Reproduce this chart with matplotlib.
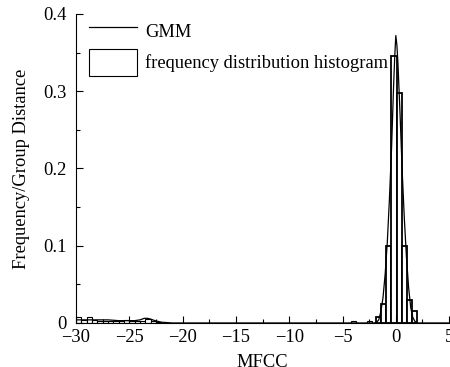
import matplotlib
matplotlib.use("Agg")
import matplotlib.pyplot as plt
from matplotlib.lines import Line2D
from matplotlib.patches import Rectangle
from matplotlib.ticker import MultipleLocator, FuncFormatter

plt.rcParams["font.family"] = ["Liberation Serif", "DejaVu Serif"]
FS = 13.3

# histogram bins near the peak (left edges, widths, heights)
peak_left = [-1.85, -1.37, -0.89, -0.41, 0.07, 0.55, 1.03, 1.51]
peak_width = [0.48, 0.48, 0.48, 0.48, 0.48, 0.48, 0.48, 0.48]
peak_height = [0.008, 0.025, 0.100, 0.345, 0.298, 0.100, 0.030, 0.015]

# small bins far out in the left tail
tail_left = [-30.0, -29.5, -29.0, -28.5, -28.0, -27.5, -27.0, -26.5, -26.0,
             -25.5, -25.0, -24.5, -24.0, -23.5, -23.0, -22.5, -4.2, -2.7]
tail_width = [0.5] * len(tail_left)
tail_height = [0.008, 0.004, 0.008, 0.004, 0.003, 0.003, 0.003, 0.003, 0.002,
               0.004, 0.002, 0.002, 0.003, 0.005, 0.003, 0.001, 0.002, 0.002]

# GMM curve
gmm_x = [-30.0, -29.0, -28.0, -27.0, -26.0, -25.0, -24.5, -24.0, -23.6, -23.3,
         -23.0, -22.6, -22.0, -21.0, -18.0, -10.0, -5.0, -2.5, -2.0, -1.8,
         -1.6, -1.4, -1.2, -1.0, -0.8, -0.6, -0.4, -0.2, -0.1, 0.0,
         0.1, 0.2, 0.4, 0.6, 0.8, 1.0, 1.2, 1.4, 1.6, 1.8, 2.0, 2.5, 5.0]
gmm_y = [0.004, 0.004, 0.004, 0.004, 0.003, 0.003, 0.003, 0.004, 0.006, 0.006,
         0.005, 0.003, 0.001, 0.0, 0.0, 0.0, 0.0, 0.0, 0.0, 0.001,
         0.004, 0.015, 0.033, 0.063, 0.104, 0.160, 0.226, 0.310, 0.345, 0.372,
         0.360, 0.336, 0.270, 0.196, 0.135, 0.085, 0.046, 0.020, 0.007, 0.002, 0.0, 0.0, 0.0]

fig = plt.figure(figsize=(4.5, 3.67), dpi=100)
ax = fig.add_axes([0.169, 0.12, 0.829, 0.842])

ax.bar(tail_left, tail_height, width=tail_width, align="edge",
       facecolor="white", edgecolor="black", linewidth=0.8)
ax.bar(peak_left, peak_height, width=peak_width, align="edge",
       facecolor="white", edgecolor="black", linewidth=1.3)
ax.plot(gmm_x, gmm_y, color="black", linewidth=0.9)

ax.set_xlim(-30, 5)
ax.set_ylim(0, 0.4)
ax.xaxis.set_major_locator(MultipleLocator(5))
ax.xaxis.set_minor_locator(MultipleLocator(2.5))
ax.yaxis.set_major_locator(MultipleLocator(0.1))
ax.yaxis.set_minor_locator(MultipleLocator(0.05))
ax.yaxis.set_major_formatter(FuncFormatter(lambda v, p: "%g" % round(v, 2)))
ax.xaxis.set_major_formatter(FuncFormatter(lambda v, p: ("%g" % v).replace("-", "\u2212")))
ax.tick_params(which="both", direction="in", labelsize=FS, width=0.8)
ax.tick_params(which="major", length=5)
ax.tick_params(which="minor", length=3)
ax.tick_params(axis="x", pad=4)
ax.tick_params(axis="y", pad=7)
ax.spines["top"].set_visible(False)
ax.spines["right"].set_visible(False)
for s in ("left", "bottom"):
    ax.spines[s].set_linewidth(0.8)

ax.set_xlabel("MFCC", fontsize=FS, labelpad=6)
ax.set_ylabel("Frequency/Group Distance", fontsize=FS, labelpad=9)

handles = [Line2D([], [], color="black", linewidth=0.9),
           Rectangle((0, 0), 1, 1, facecolor="white", edgecolor="black", linewidth=0.8)]
ax.legend(handles, ["GMM", "frequency distribution histogram"], loc="upper left",
          bbox_to_anchor=(0.0, 1.03), frameon=False, fontsize=FS,
          handlelength=2.6, handleheight=1.9, handletextpad=0.45,
          borderaxespad=0.3, labelspacing=0.2)

fig.savefig("out.png", dpi=100)
